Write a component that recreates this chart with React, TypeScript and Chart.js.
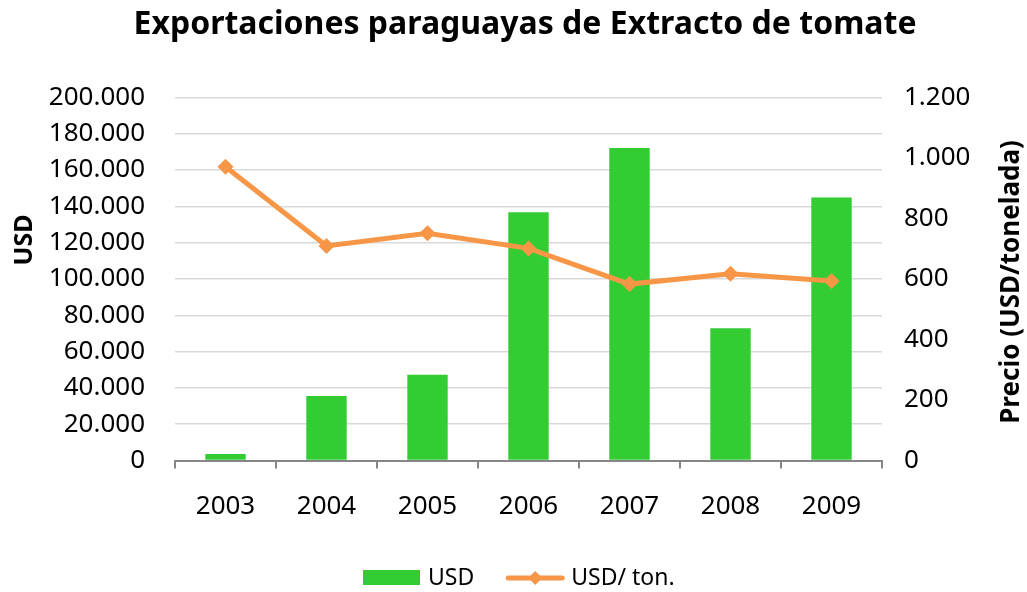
import React, { useEffect, useRef } from "react";
import { Chart, registerables } from "chart.js";

Chart.register(...registerables);

const years = ["2003", "2004", "2005", "2006", "2007", "2008", "2009"];
const usdValues = [3600, 35500, 47200, 136700, 172100, 72900, 144800];
const pricePerTon = [971, 709, 751, 701, 583, 617, 593];

const chartTitle = "Exportaciones paraguayas de Extracto de tomate";
const leftAxisTitle = "USD";
const rightAxisTitle = "Precio (USD/tonelada)";
const barLabel = "USD";
const lineLabel = "USD/ ton.";

const GREEN = "#33CC33";
const ORANGE = "#F79646";
const FONT = "'Noto Sans', 'DejaVu Sans', sans-serif";

const fmt = (v: number) => String(v).replace(/\B(?=(\d{3})+(?!\d))/g, ".");

const overlayPlugin = {
  id: "overlay",
  afterDraw(chart: any) {
    const ctx = chart.ctx as CanvasRenderingContext2D;
    const area = chart.chartArea;
    const midY = (area.top + area.bottom) / 2;
    ctx.save();
    ctx.fillStyle = "#000";
    ctx.textAlign = "center";
    ctx.textBaseline = "middle";
    // chart title (slightly right of centre, as in the reference)
    ctx.font = `bold 32px ${FONT}`;
    ctx.fillText(chartTitle, 525, 25);
    // left axis title
    ctx.font = `bold 25px ${FONT}`;
    ctx.save();
    ctx.translate(25, midY - 39);
    ctx.rotate(-Math.PI / 2);
    ctx.fillText(leftAxisTitle, 0, 0);
    ctx.restore();
    // right axis title
    ctx.font = `bold 26px ${FONT}`;
    ctx.save();
    ctx.translate(1012, midY + 3);
    ctx.rotate(-Math.PI / 2);
    ctx.fillText(rightAxisTitle, 0, 0);
    ctx.restore();

    // legend
    const ly = 578;
    ctx.font = `23px ${FONT}`;
    ctx.textAlign = "left";
    let x = 363;
    ctx.fillStyle = GREEN;
    ctx.fillRect(x, ly - 8, 57, 15);
    x += 57 + 8;
    ctx.fillStyle = "#000";
    ctx.fillText(barLabel, x, ly);
    x += ctx.measureText(barLabel).width + 32;
    ctx.strokeStyle = ORANGE;
    ctx.lineWidth = 5;
    ctx.lineCap = "round";
    ctx.beginPath();
    ctx.moveTo(x + 2, ly);
    ctx.lineTo(x + 56, ly);
    ctx.stroke();
    ctx.fillStyle = ORANGE;
    const cx = x + 29;
    ctx.beginPath();
    ctx.moveTo(cx, ly - 7);
    ctx.lineTo(cx + 7, ly);
    ctx.lineTo(cx, ly + 7);
    ctx.lineTo(cx - 7, ly);
    ctx.closePath();
    ctx.fill();
    x += 58 + 7;
    ctx.fillStyle = "#000";
    ctx.fillText(lineLabel, x, ly);
    ctx.restore();
  },
};

export default function App() {
  const canvasRef = useRef<HTMLCanvasElement | null>(null);

  useEffect(() => {
    document.body.style.margin = "0";
    const canvas = canvasRef.current;
    if (!canvas) return;
    Chart.defaults.color = "#000";
    Chart.defaults.font.family = FONT;
    const chart = new Chart(canvas, {
      type: "bar",
      data: {
        labels: years,
        datasets: [
          {
            type: "line",
            label: lineLabel,
            data: pricePerTon,
            yAxisID: "y1",
            borderColor: ORANGE,
            backgroundColor: ORANGE,
            borderWidth: 5,
            pointStyle: "rectRot",
            pointRadius: 8,
            pointHoverRadius: 8,
            pointBackgroundColor: ORANGE,
            pointBorderColor: ORANGE,
            pointBorderWidth: 0,
            tension: 0,
            order: 0,
          } as any,
          {
            type: "bar",
            label: barLabel,
            data: usdValues,
            yAxisID: "y",
            backgroundColor: GREEN,
            borderWidth: 0,
            categoryPercentage: 1,
            barPercentage: 0.4,
            order: 1,
          },
        ],
      },
      options: {
        responsive: false,
        animation: false,
        layout: { padding: { left: 0, right: 0, top: 0, bottom: 0 } },
        plugins: {
          legend: { display: false },
          tooltip: { enabled: false },
          title: {
            display: true,
            text: chartTitle,
            color: "rgba(0,0,0,0)",
            font: { family: FONT, size: 32, weight: "bold" },
            padding: { top: 4, bottom: 55 },
          },
        },
        scales: {
          x: {
            offset: true,
            grid: {
              display: true,
              offset: true,
              drawOnChartArea: false,
              drawTicks: true,
              tickLength: 8,
              color: "#868686",
              lineWidth: 2,
            },
            border: { display: true, color: "#868686", width: 2 },
            ticks: { font: { size: 26, family: FONT }, padding: 22, color: "#000" },
            afterFit: (scale: any) => {
              scale.height = 131.5;
            },
          },
          y: {
            position: "left",
            min: 0,
            max: 200000,
            ticks: {
              stepSize: 20000,
              font: { size: 26, family: FONT },
              padding: 30,
              color: "#000",
              callback: (v: any) => fmt(Number(v)),
            },
            grid: { color: "#D9D9D9", lineWidth: 1.5, drawTicks: false },
            border: { display: false },
            afterFit: (scale: any) => {
              scale.width = 175;
            },
          },
          y1: {
            position: "right",
            min: 0,
            max: 1200,
            ticks: {
              stepSize: 200,
              font: { size: 26, family: FONT },
              padding: 22,
              color: "#000",
              callback: (v: any) => fmt(Number(v)),
            },
            grid: { drawOnChartArea: false, drawTicks: false },
            border: { display: false },
            afterFit: (scale: any) => {
              scale.width = 145;
            },
          },
        },
      },
      plugins: [overlayPlugin],
    });
    return () => chart.destroy();
  }, []);

  return (
    <div style={{ width: 1027, height: 592, background: "#fff" }}>
      <canvas ref={canvasRef} width={1027} height={592} style={{ display: "block" }} />
    </div>
  );
}
